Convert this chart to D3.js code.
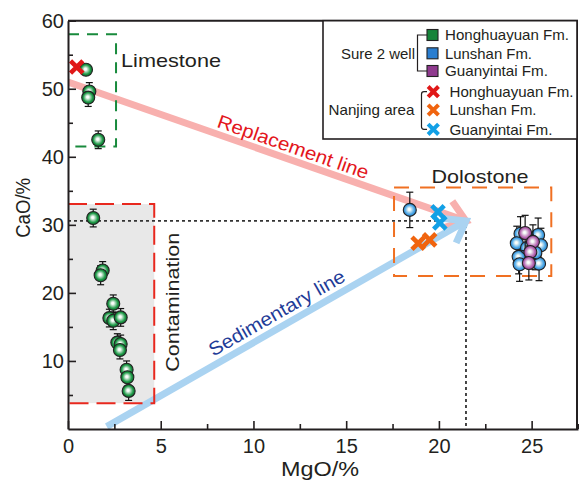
<!DOCTYPE html>
<html><head><meta charset="utf-8">
<script src="https://cdn.jsdelivr.net/npm/d3@7"></script>
<style>
html,body{margin:0;padding:0;background:#fff;}
svg text{font-family:"Liberation Sans",Arial,Helvetica,sans-serif;fill:#231f20;}
</style></head>
<body><svg id="chart" width="579" height="480"></svg>
<script>
// ---------- data ----------
const xTicks = [0, 5, 10, 15, 20, 25];
const xMinor = [2.5, 7.5, 12.5, 17.5, 22.5, 27.5];
const yTicks = [10, 20, 30, 40, 50, 60];
const yMinor = [5, 15, 25, 35, 45, 55];

// Sure 2 well – Honghuayuan Fm. (green)
const hhyMgO = [0.97, 1.15, 1.09, 1.63, 1.36, 1.87, 1.76, 2.44, 2.23, 2.44, 2.84, 2.66, 2.84, 2.80, 3.16, 3.20, 3.27];
const hhyCaO = [52.8, 49.6, 48.7, 42.5, 31.0, 23.3, 22.6, 18.4, 16.3, 15.9, 16.4, 12.7, 12.5, 11.6, 8.7, 7.6, 5.6];
const hhyErr = [0.4, 1.3, 1.3, 1.3, 1.3, 1.3, 1.4, 1.3, 1.3, 1.3, 1.3, 1.3, 1.3, 1.3, 1.3, 1.3, 1.4];
// Sure 2 well – Lunshan Fm. (blue)
const lsMgO = [18.43, 24.4, 25.35, 24.2, 25.5, 24.3, 25.4, 24.35, 24.75, 25.2];
const lsCaO = [32.2, 28.7, 28.5, 27.3, 27.0, 25.3, 24.3, 24.2, 26.6, 25.9];
const lsErr = [2.6, 2.5, 2.5, 2.5, 2.5, 2.5, 2.5, 2.5, 2.5, 2.5];
// Sure 2 well – Guanyintai Fm. (purple)
const gytMgO = [24.65, 25.07, 24.93, 24.85];
const gytCaO = [28.8, 27.5, 26.0, 24.4];
const gytErr = [2.6, 2.5, 2.5, 2.5];
// Nanjing area (crosses)
const njHhyMgO = [0.47];  const njHhyCaO = [53.2];
const njLsMgO = [18.88, 19.5]; const njLsCaO = [27.3, 27.8];
const njGytMgO = [19.95, 20.05]; const njGytCaO = [31.9, 30.3];

// reference point and trend lines
const refPoint = [21.46, 30.57];
const replStart = [0, 51.0];
const sedStart = [2.09, 0.35];

// boxes [x0, x1, y0, y1]
const limeBox = [0, 2.59, 41.5, 58.0];
const contBox = [0, 4.65, 3.8, 33.05];
const doloBox = [17.58, 26.06, 22.5, 35.5];

const legendSure = ["Honghuayuan Fm.", "Lunshan Fm.", "Guanyintai Fm."];
const legendNanjing = ["Honghuayuan Fm.", "Lunshan Fm.", "Guanyintai Fm."];

// ---------- setup ----------
const svg = d3.select("#chart");
const x = d3.scaleLinear([0, 27.5], [68, 578]);
const y = d3.scaleLinear([0, 60], [429, 20.7]);
const ink = "#231f20";

const defs = svg.append("defs");
function grad(id, col, dark) {
  const g = defs.append("radialGradient").attr("id", id).attr("cx", "50%").attr("cy", "50%").attr("r", "50%")
    .attr("fx", "45%").attr("fy", "45%");
  g.append("stop").attr("offset", "0%").attr("stop-color", "#ffffff");
  g.append("stop").attr("offset", "18%").attr("stop-color", "#f4faf6");
  g.append("stop").attr("offset", "72%").attr("stop-color", col);
  g.append("stop").attr("offset", "100%").attr("stop-color", dark);
}
grad("gGreen", "#1f9a48", "#0d6a2c");
grad("gBlue", "#4aa6e6", "#2a82cc");
grad("gPurple", "#b668b2", "#8e3f8c");
defs.append("clipPath").attr("id", "plotClip").append("rect")
  .attr("x", x(0)).attr("y", y(60)).attr("width", x(27.5) - x(0)).attr("height", y(0) - y(60));

// contamination grey fill
svg.append("rect").attr("x", x(contBox[0])).attr("y", y(contBox[3]))
  .attr("width", x(contBox[1]) - x(contBox[0])).attr("height", y(contBox[2]) - y(contBox[3]))
  .attr("fill", "#e8e8e8");

// dotted reference lines
svg.append("path")
  .attr("d", `M${x(0)},${y(refPoint[1])}H${x(refPoint[0])}V${y(0)}`)
  .attr("fill", "none").attr("stroke", "#333").attr("stroke-width", 1.8).attr("stroke-dasharray", "3,3");

// arrows
function arrow(p0, p1, col) {
  const x0 = x(p0[0]), y0 = y(p0[1]), x1 = x(p1[0]), y1 = y(p1[1]);
  const a = Math.atan2(y1 - y0, x1 - x0);
  const L = 24, th = 36 * Math.PI / 180;
  const g = svg.append("g").attr("clip-path", "url(#plotClip)");
  g.append("line").attr("x1", x0).attr("y1", y0)
    .attr("x2", x1 - 5 * Math.cos(a)).attr("y2", y1 - 5 * Math.sin(a))
    .attr("stroke", col).attr("stroke-width", 7);
  g.append("path")
    .attr("d", `M${x1 - L * Math.cos(a - th)},${y1 - L * Math.sin(a - th)}L${x1},${y1}L${x1 - L * Math.cos(a + th)},${y1 - L * Math.sin(a + th)}`)
    .attr("fill", "none").attr("stroke", col).attr("stroke-width", 7).attr("stroke-linejoin", "miter");
  return a * 180 / Math.PI;
}
const aRepl = arrow(replStart, refPoint, "#f8b0ae");
const aSed = arrow(sedStart, refPoint, "#aad3f1");

// dashed boxes
function box(b, col, dash, sides) {
  const x0 = x(b[0]), x1 = x(b[1]), yt = y(b[3]), yb = y(b[2]);
  const d = sides === "open"
    ? `M${x0},${yt}H${x1}V${yb}H${x0}`
    : `M${x0},${yt}H${x1}V${yb}H${x0}Z`;
  svg.append("path").attr("d", d).attr("fill", "none").attr("stroke", col)
    .attr("stroke-width", 2).attr("stroke-dasharray", dash);
}
box(limeBox, "#188a3c", "11,8", "open");
box(contBox, "#e8281e", "19,8", "open");
box(doloBox, "#f07022", "15,11", "closed");

// annotation texts
svg.append("text").attr("x", x(2.86)).attr("y", y(53.2)).attr("font-size", 19)
  .attr("textLength", 100).attr("lengthAdjust", "spacingAndGlyphs").text("Limestone");
svg.append("text").attr("x", x(19.6)).attr("y", y(36.1)).attr("font-size", 19)
  .attr("textLength", 97).attr("lengthAdjust", "spacingAndGlyphs").text("Dolostone");
svg.append("text").attr("transform", `translate(${x(5.99)},${y(8.4)}) rotate(-90)`)
  .attr("font-size", 19).attr("textLength", 139).attr("lengthAdjust", "spacingAndGlyphs")
  .text("Contamination");
svg.append("text").attr("transform", `translate(${x(7.98)},${y(44.4)}) rotate(${aRepl})`)
  .attr("font-size", 19).attr("textLength", 159).attr("lengthAdjust", "spacingAndGlyphs")
  .style("fill", "#e3161c").text("Replacement line");
svg.append("text").attr("transform", `translate(${x(7.83)},${y(10.6)}) rotate(${aSed})`)
  .attr("font-size", 19).attr("textLength", 154).attr("lengthAdjust", "spacingAndGlyphs")
  .style("fill", "#1f3c98").text("Sedimentary line");

// error bars + circles
function circles(mx, my, me, fill) {
  const data = mx.map((v, i) => ({ x: v, y: my[i], e: me[i] }));
  const g = svg.append("g");
  const eb = g.selectAll(".eb").data(data).join("g").attr("stroke", "#111").attr("stroke-width", 1.2);
  eb.append("line").attr("x1", d => x(d.x)).attr("x2", d => x(d.x)).attr("y1", d => y(d.y - d.e)).attr("y2", d => y(d.y + d.e));
  eb.append("line").attr("x1", d => x(d.x) - 3.5).attr("x2", d => x(d.x) + 3.5).attr("y1", d => y(d.y + d.e)).attr("y2", d => y(d.y + d.e));
  eb.append("line").attr("x1", d => x(d.x) - 3.5).attr("x2", d => x(d.x) + 3.5).attr("y1", d => y(d.y - d.e)).attr("y2", d => y(d.y - d.e));
  g.selectAll("circle").data(data).join("circle")
    .attr("cx", d => x(d.x)).attr("cy", d => y(d.y)).attr("r", 6.5)
    .attr("fill", fill).attr("stroke", "#222").attr("stroke-width", 1.1);
}
circles(hhyMgO, hhyCaO, hhyErr, "url(#gGreen)");
circles(lsMgO, lsCaO, lsErr, "url(#gBlue)");
circles(gytMgO, gytCaO, gytErr, "url(#gPurple)");

function crossPath(cx, cy, s) {
  return `M${cx - s},${cy - s}L${cx + s},${cy + s}M${cx - s},${cy + s}L${cx + s},${cy - s}`;
}
function crosses(mx, my, col) {
  svg.append("g").selectAll("path").data(mx.map((v, i) => [v, my[i]])).join("path")
    .attr("d", d => crossPath(x(d[0]), y(d[1]), 6.2))
    .attr("stroke", col).attr("stroke-width", 4.6).attr("fill", "none");
}
crosses(njHhyMgO, njHhyCaO, "#e01818");
crosses(njLsMgO, njLsCaO, "#f0640f");
crosses(njGytMgO, njGytCaO, "#12a0e6");

// ---------- axes ----------
const fmt = d3.format("d");
svg.append("g").attr("transform", `translate(0,${y(0)})`)
  .call(d3.axisBottom(x).tickValues(xTicks).tickFormat(fmt).tickSize(-8).tickSizeOuter(0).tickPadding(10));
svg.append("g").attr("transform", `translate(0,${y(0)})`)
  .call(d3.axisBottom(x).tickValues(xMinor).tickFormat("").tickSize(-5).tickSizeOuter(0))
  .select(".domain").remove();
const gy = svg.append("g").attr("transform", `translate(${x(0)},0)`)
  .call(d3.axisLeft(y).tickValues(yTicks).tickFormat(fmt).tickSize(-8).tickSizeOuter(0).tickPadding(4));
svg.append("g").attr("transform", `translate(${x(0)},0)`)
  .call(d3.axisLeft(y).tickValues(yMinor).tickFormat("").tickSize(-5).tickSizeOuter(0))
  .select(".domain").remove();
svg.selectAll(".tick line").attr("stroke", ink).attr("stroke-width", 1.6);
svg.selectAll(".domain").attr("stroke", ink).attr("stroke-width", 2);
svg.selectAll(".tick text").attr("font-size", 20).attr("font-family", '"Liberation Sans",Arial,sans-serif').attr("fill", ink);
gy.selectAll(".tick text").attr("x", -4);

// top and right frame
svg.append("path").attr("d", `M${x(0)},${y(60)}H${x(27.5) - 1}V${y(0)}`)
  .attr("fill", "none").attr("stroke", ink).attr("stroke-width", 2);

// axis titles
svg.append("text").attr("x", (x(0) + x(27.5)) / 2 - 3).attr("y", 476).attr("text-anchor", "middle")
  .attr("font-size", 21).attr("textLength", 78).attr("lengthAdjust", "spacingAndGlyphs").text("MgO/%");
svg.append("text").attr("transform", `translate(30,${(y(0) + y(60)) / 2 - 17}) rotate(-90)`)
  .attr("text-anchor", "middle").attr("font-size", 21).attr("textLength", 60)
  .attr("lengthAdjust", "spacingAndGlyphs").text("CaO/%");

// ---------- legend ----------
const lg = svg.append("g");
const lx0 = 323, ly0 = y(60), lx1 = x(27.5) - 1, ly1 = 139;
lg.append("rect").attr("x", lx0).attr("y", ly0).attr("width", lx1 - lx0).attr("height", ly1 - ly0)
  .attr("fill", "#fff").attr("stroke", ink).attr("stroke-width", 1.6);
const rowsA = [35, 53.3, 71], rowsB = [91.7, 110, 129.3];
const sqCols = ["#17843a", "#2a7ed0", "#8f3a8e"];
const xCols = ["#e01818", "#f0640f", "#12a0e6"];
legendSure.forEach((t, i) => {
  lg.append("rect").attr("x", 427).attr("y", rowsA[i] - 5.5).attr("width", 11).attr("height", 11)
    .attr("fill", sqCols[i]).attr("stroke", "#222").attr("stroke-width", 1.1);
  lg.append("text").attr("x", 445).attr("y", rowsA[i]).attr("dy", "0.36em").attr("font-size", 14.5)
    .attr("textLength", [124, 87, 103][i]).attr("lengthAdjust", "spacingAndGlyphs").text(t);
});
legendNanjing.forEach((t, i) => {
  lg.append("path").attr("d", crossPath(433.3, rowsB[i], 5.2)).attr("stroke", xCols[i])
    .attr("stroke-width", 4).attr("fill", "none");
  lg.append("text").attr("x", 449.5).attr("y", rowsB[i]).attr("dy", "0.36em").attr("font-size", 14.5)
    .attr("textLength", [124, 87, 103][i]).attr("lengthAdjust", "spacingAndGlyphs").text(t);
});
lg.append("path").attr("d", `M427,${rowsA[0]}H417.5V${rowsA[2]}H427`).attr("fill", "none").attr("stroke", ink).attr("stroke-width", 1.2);
lg.append("path").attr("d", `M427,${rowsB[0]}H424Q421.5,${rowsB[0]} 421.5,${rowsB[0] + 2.5}V${rowsB[2] - 2.5}Q421.5,${rowsB[2]} 424,${rowsB[2]}H427`)
  .attr("fill", "none").attr("stroke", ink).attr("stroke-width", 1.2);
lg.append("text").attr("x", 378).attr("y", rowsA[1]).attr("dy", "0.36em").attr("text-anchor", "middle")
  .attr("font-size", 14.5).attr("textLength", 74).attr("lengthAdjust", "spacingAndGlyphs").text("Sure 2 well");
lg.append("text").attr("x", 371.5).attr("y", rowsB[1]).attr("dy", "0.36em").attr("text-anchor", "middle")
  .attr("font-size", 14.5).attr("textLength", 86).attr("lengthAdjust", "spacingAndGlyphs").text("Nanjing area");
</script></body></html>
